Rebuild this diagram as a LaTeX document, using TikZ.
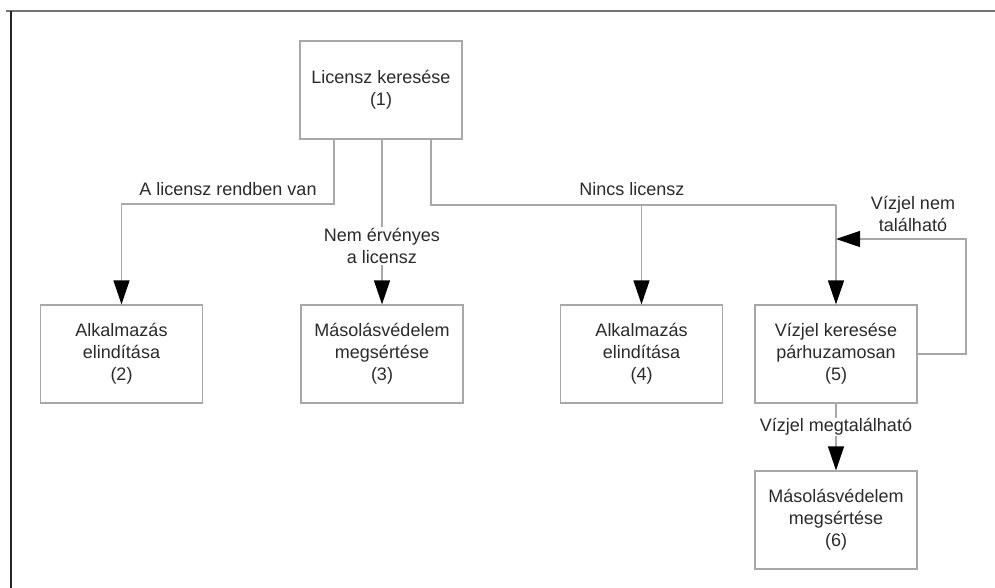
\documentclass[tikz,border=0pt]{standalone}
\usepackage{fontspec}
\setmainfont{Liberation Sans}
\usetikzlibrary{arrows.meta}
\definecolor{linegray}{HTML}{A8A8A8}
\definecolor{txt}{HTML}{2A2A2A}
\tikzset{
  box/.style={draw=linegray, line width=1.2pt, minimum width=162pt, minimum height=98pt,
    inner sep=0pt, align=center, text=txt, font=\fontsize{18pt}{22pt}\selectfont},
  conn/.style={draw=linegray, line width=1.2pt},
  arr/.style={conn, -{Triangle[length=24pt,width=16pt,color=black]}},
  lbl/.style={text=txt, font=\fontsize{18pt}{22pt}\selectfont, align=center, inner sep=1pt},
  lblw/.style={lbl, fill=white}
}
\begin{document}
\begin{tikzpicture}[x=1pt,y=-1pt]
\useasboundingbox (0,0) rectangle (995,588);
\draw[color=black!55, line width=1.5pt] (6,11) -- (995,11);
\draw[color=black!85, line width=1.5pt] (11,11) -- (11,588);

\node[box] (b1) at (381,90) {Licensz keresése\\(1)};
\node[box] (b2) at (121.5,354) {Alkalmazás\\elindítása\\(2)};
\node[box] (b3) at (382,354) {Másolásvédelem\\megsértése\\(3)};
\node[box] (b4) at (641.5,354) {Alkalmazás\\elindítása\\(4)};
\node[box] (b5) at (836,354) {Vízjel keresése\\párhuzamosan\\(5)};
\node[box] (b6) at (836,520) {Másolásvédelem\\megsértése\\(6)};

\coordinate (s1) at (334,139);
\coordinate (s2) at (382,139);
\coordinate (s3) at (431,139);
\coordinate (k1) at (334,204);
\coordinate (k2) at (121.5,204);
\coordinate (k3) at (431,205);
\coordinate (k4) at (836,205);
\coordinate (j4) at (641.5,205);
\coordinate (l1) at (966,354);
\coordinate (l2) at (966,239);
\coordinate (l3) at (836,239);

\draw[arr] (s1) -- (k1) -- (k2) -- (b2.north);
\draw[arr] (s2) -- (b3.north);
\draw[conn] (s3) -- (k3) -- (k4);
\draw[arr] (j4) -- (b4.north);
\draw[arr] (k4) -- (b5.north);
\draw[arr] (b5.east |- l1) -- (l1) -- (l2) -- (l3);
\draw[arr] (b5.south) -- (b6.north);

\node[lbl] (t1) at (228,189) {A licensz rendben van};
\node[lblw] (t2) at (382,246) {Nem érvényes\\a licensz};
\node[lbl] (t3) at (632,189) {Nincs licensz};
\node[lbl] (t4) at (913,214) {Vízjel nem\\található};
\node[lblw] (t5) at (836,427) {Vízjel megtalálható};
\end{tikzpicture}
\end{document}
